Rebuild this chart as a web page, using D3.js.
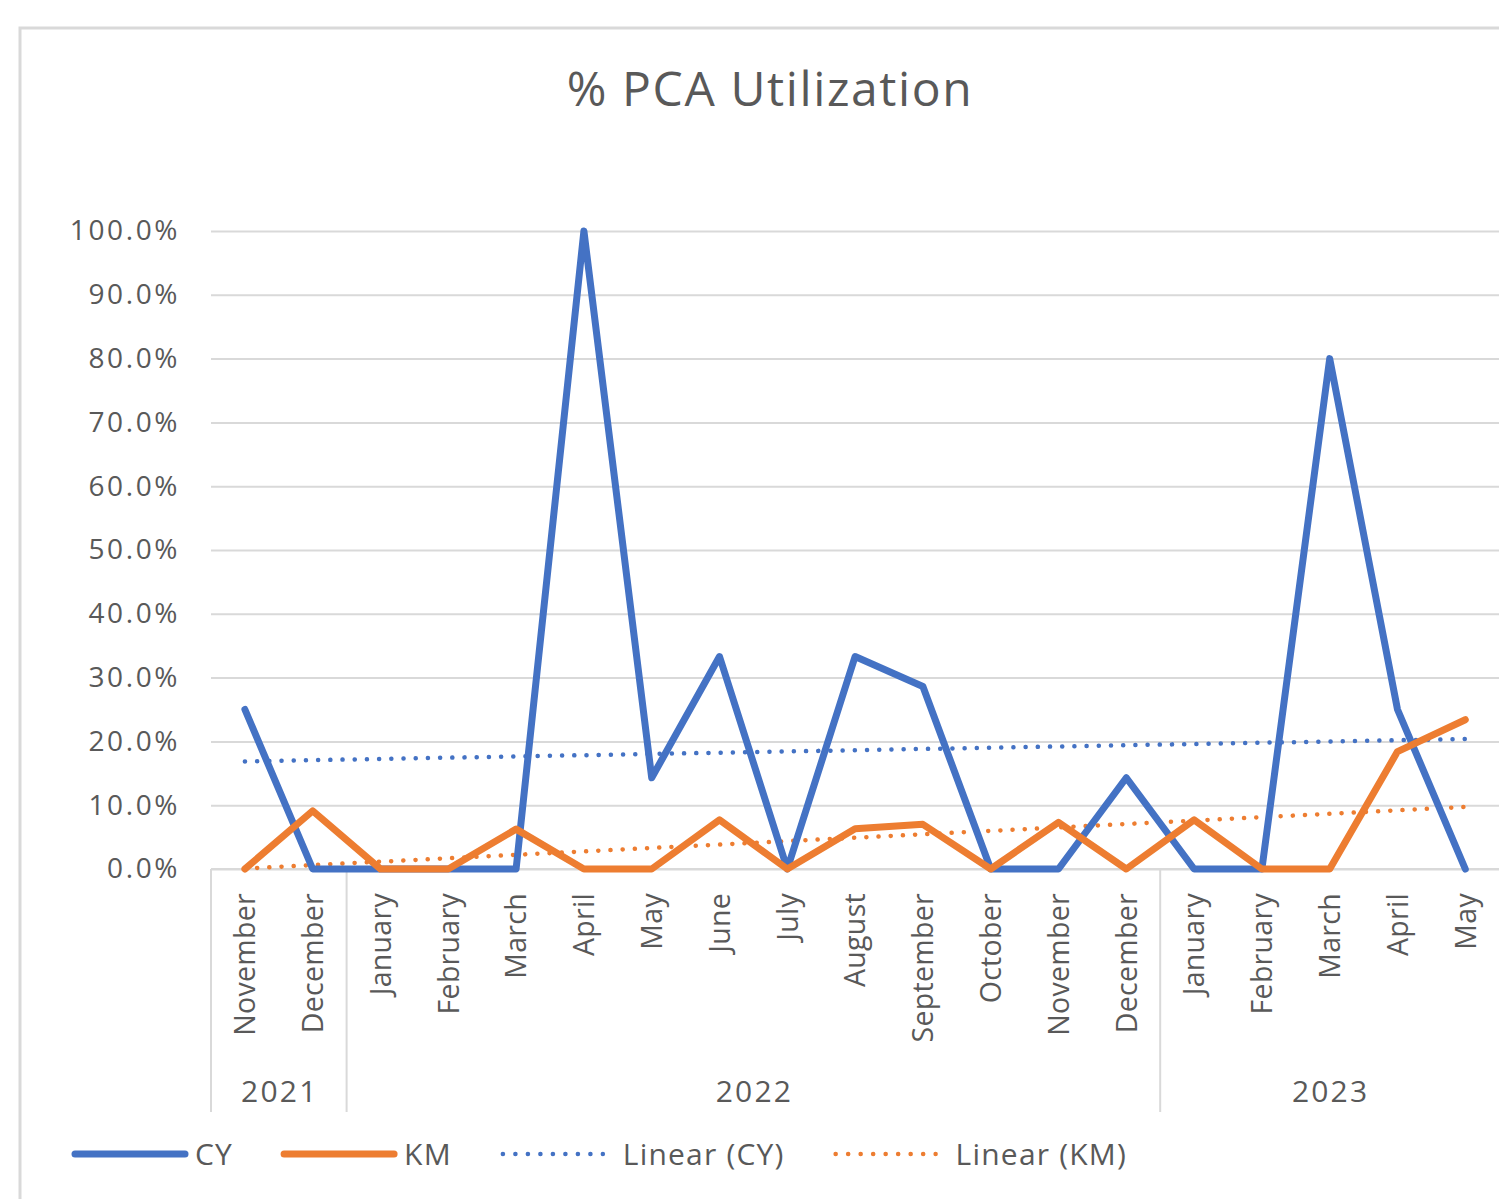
<!DOCTYPE html>
<html>
<head>
<meta charset="utf-8">
<script src="https://cdn.jsdelivr.net/npm/d3@7"></script>
<style>
  body { margin: 0; background: #fff; }
  text { font-family: "Open Sans", "Noto Sans", sans-serif; fill: #595959; }
</style>
</head>
<body>
<div id="chart"></div>
<script>
// Chart data
const months = ["November", "December", "January", "February", "March", "April", "May", "June",
    "July", "August", "September", "October", "November", "December", "January", "February",
    "March", "April", "May"];
const years = ["2021", "2021", "2022", "2022", "2022", "2022", "2022", "2022", "2022", "2022",
    "2022", "2022", "2022", "2022", "2023", "2023", "2023", "2023", "2023"];
const cyValues = [0.25, 0, 0, 0, 0, 1.0, 0.143, 0.333, 0, 0.333, 0.286, 0, 0, 0.143, 0, 0, 0.8, 0.25, 0];
const kmValues = [0, 0.091, 0, 0, 0.0625, 0, 0, 0.077, 0, 0.063, 0.07, 0, 0.073, 0, 0.077, 0, 0, 0.184, 0.234];
const yTicks = [0, 0.1, 0.2, 0.3, 0.4, 0.5, 0.6, 0.7, 0.8, 0.9, 1.0];

const blue = "#4472C4";
const orange = "#ED7D31";
const grid = "#d9d9d9";

const width = 1499, height = 1199;
const plotLeft = 211, bandW = 67.8;
const plotTop = 231, plotBottom = 869;

const svg = d3.select("#chart").append("svg")
    .attr("width", width)
    .attr("height", height);

// Chart border (extends past the right and bottom edge of the view)
svg.append("rect")
    .attr("x", 20).attr("y", 28)
    .attr("width", 1600).attr("height", 1300)
    .attr("fill", "#fff")
    .attr("stroke", grid)
    .attr("stroke-width", 3);

// Title
svg.append("text")
    .attr("x", 770).attr("y", 106)
    .attr("text-anchor", "middle")
    .style("font-size", "48px")
    .style("letter-spacing", "1.6px")
    .text("% PCA Utilization");

const idx = d3.range(months.length);
const x = d3.scaleBand().domain(idx).range([plotLeft, plotLeft + bandW * months.length]);
const y = d3.scaleLinear().domain([0, 1]).range([plotBottom, plotTop]);
const cx = i => x(i) + x.bandwidth() / 2;

// Gridlines
svg.append("g")
    .attr("transform", `translate(${plotLeft},0)`)
    .call(d3.axisLeft(y).tickValues(yTicks).tickSize(-(width - plotLeft)).tickFormat(""))
    .call(g => g.select(".domain").remove())
    .call(g => g.selectAll("line").attr("stroke", grid).attr("stroke-width", 2));

// Y axis labels
svg.append("g")
    .attr("transform", `translate(${plotLeft},0)`)
    .call(d3.axisLeft(y).tickValues(yTicks).tickSize(0).tickPadding(31).tickFormat(d3.format(".1%")))
    .call(g => g.select(".domain").remove())
    .call(g => g.selectAll("text")
        .style("font-size", "28px")
        .style("letter-spacing", "2.6px")
        .attr("fill", "#595959"));

// X axis: month labels
const xAxis = svg.append("g")
    .attr("transform", `translate(0,${plotBottom})`)
    .call(d3.axisBottom(x).tickSize(0).tickFormat(i => months[i]));
xAxis.select(".domain").remove();
xAxis.selectAll("text")
    .style("font-size", "28.5px")
    .style("letter-spacing", "0.3px")
    .attr("fill", "#595959")
    .attr("text-anchor", "end")
    .attr("transform", "rotate(-90)")
    .attr("x", -24)
    .attr("y", 0)
    .attr("dy", "0.36em");

// Baseline
svg.append("line")
    .attr("x1", plotLeft).attr("x2", width)
    .attr("y1", plotBottom).attr("y2", plotBottom)
    .attr("stroke", grid).attr("stroke-width", 2);

// Year groups
const groups = [];
years.forEach((yr, i) => {
    const last = groups[groups.length - 1];
    if (last && last.year === yr) last.end = i;
    else groups.push({ year: yr, start: i, end: i });
});
const sepBottom = 1112;
groups.forEach(gr => {
    const x0 = x(gr.start);
    const x1 = x(gr.end) + x.bandwidth();
    svg.append("line")
        .attr("x1", x0).attr("x2", x0)
        .attr("y1", plotBottom).attr("y2", sepBottom)
        .attr("stroke", grid).attr("stroke-width", 2);
    svg.append("text")
        .attr("x", (x0 + Math.min(x1, width)) / 2 + 1)
        .attr("y", 1102)
        .attr("text-anchor", "middle")
        .style("font-size", "30px")
        .style("letter-spacing", "2.2px")
        .text(gr.year);
});

// Linear trend (least squares)
function trend(values) {
    const n = values.length;
    const mx = d3.mean(idx), my = d3.mean(values);
    let sxy = 0, sxx = 0;
    values.forEach((v, i) => { sxy += (i - mx) * (v - my); sxx += (i - mx) * (i - mx); });
    const b = sxy / sxx, a = my - b * mx;
    return [0, n - 1].map(i => [i, a + b * i]);
}

const line = d3.line().x(d => cx(d[0])).y(d => y(d[1]));

const series = [
    { values: cyValues, color: blue },
    { values: kmValues, color: orange }
];

// Trend lines (dotted)
series.forEach(s => {
    svg.append("path")
        .datum(trend(s.values))
        .attr("d", line)
        .attr("fill", "none")
        .attr("stroke", s.color)
        .attr("stroke-width", 4.5)
        .attr("stroke-linecap", "round")
        .attr("stroke-dasharray", "0.1 12.1");
});

// Data lines
series.forEach(s => {
    svg.append("path")
        .datum(s.values.map((v, i) => [i, v]))
        .attr("d", line)
        .attr("fill", "none")
        .attr("stroke", s.color)
        .attr("stroke-width", 7)
        .attr("stroke-linejoin", "round")
        .attr("stroke-linecap", "round");
});

// Legend
const legendItems = [
    { label: "CY", color: blue, dotted: false, len: 110, pad: 10 },
    { label: "KM", color: orange, dotted: false, len: 110, pad: 10 },
    { label: "Linear (CY)", color: blue, dotted: true, len: 100, pad: 20 },
    { label: "Linear (KM)", color: orange, dotted: true, len: 100, pad: 20 }
];
const legendY = 1154;
let lx = 75;
legendItems.forEach(item => {
    svg.append("line")
        .attr("x1", lx).attr("x2", lx + item.len)
        .attr("y1", legendY).attr("y2", legendY)
        .attr("stroke", item.color)
        .attr("stroke-width", item.dotted ? 4.5 : 7)
        .attr("stroke-linecap", "round")
        .attr("stroke-dasharray", item.dotted ? "0.1 12.4" : null);
    const t = svg.append("text")
        .attr("x", lx + item.len + item.pad)
        .attr("y", legendY)
        .attr("dy", "0.35em")
        .style("font-size", "30px")
        .style("letter-spacing", "1.2px")
        .text(item.label);
    lx = lx + item.len + item.pad + t.node().getComputedTextLength() + 51;
});
</script>
</body>
</html>
